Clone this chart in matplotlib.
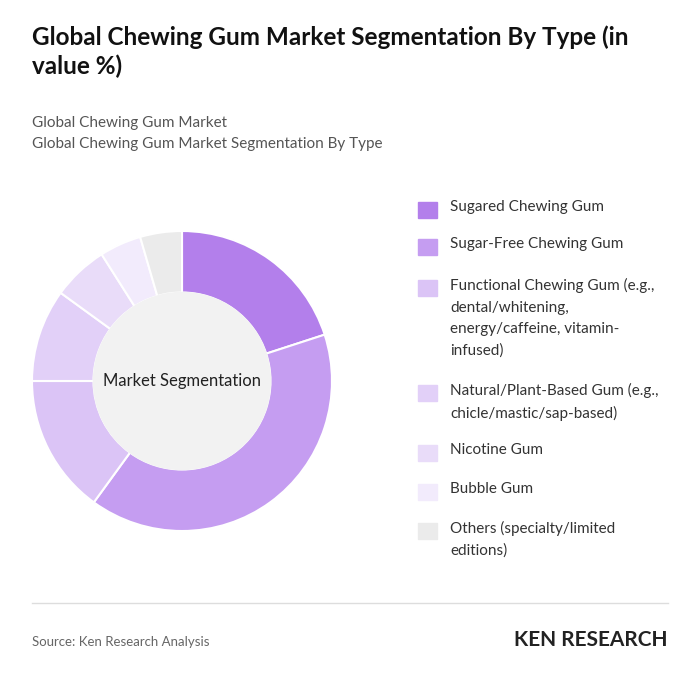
import matplotlib.pyplot as plt
from matplotlib.patches import Circle

plt.rcParams['font.family'] = ['Lato', 'DejaVu Sans']

categories = [
    "Sugared Chewing Gum",
    "Sugar-Free Chewing Gum",
    "Functional Chewing Gum (e.g.,\ndental/whitening,\nenergy/caffeine, vitamin-\ninfused)",
    "Natural/Plant-Based Gum (e.g.,\nchicle/mastic/sap-based)",
    "Nicotine Gum",
    "Bubble Gum",
    "Others (specialty/limited\neditions)",
]
values = [20, 40, 15, 10, 6, 4.5, 4.5]
colors = ["#b37feb", "#c59df1", "#dbc4f6", "#e2d0f8", "#e9dcf9", "#f2ebfc", "#ebebeb"]

fig = plt.figure(figsize=(7, 6.88), dpi=100)
W, H = 700, 688

fig.text(32 / W, 1 - 52 / H, "Global Chewing Gum Market Segmentation By Type (in\nvalue %)",
         fontsize=17.5, fontweight='bold', color="#111111", va='center', linespacing=1.3)
fig.text(32 / W, 1 - 123 / H, "Global Chewing Gum Market", fontsize=11, color="#555555", va='center')
fig.text(32 / W, 1 - 144 / H, "Global Chewing Gum Market Segmentation By Type", fontsize=11,
         color="#555555", va='center')

ax = fig.add_axes([32 / W, 1 - 531 / H, 300 / W, 300 / H])
ax.pie(values, colors=colors, startangle=90, counterclock=False, radius=1,
       wedgeprops=dict(width=0.41, edgecolor='white', linewidth=1.5))
ax.add_patch(Circle((0, 0), 0.59, color="#f2f2f2", zorder=3))
ax.text(0, 0, "Market Segmentation", ha='center', va='center', fontsize=12, color="#222222", zorder=4)
ax.set_xlim(-1, 1)
ax.set_ylim(-1, 1)
ax.set_aspect('equal')

ys = [210, 247, 288, 393, 453, 492, 531]
for lab, c, y in zip(categories, colors, ys):
    fig.patches.append(plt.Rectangle((418 / W, 1 - (y + 8) / H), 19 / W, 16 / H,
                                     transform=fig.transFigure, color=c, figure=fig))
    fig.text(450 / W, 1 - (y - 10) / H, lab, fontsize=11, color="#333333", va='top', linespacing=1.68)

fig.add_artist(plt.Line2D([32 / W, 668 / W], [1 - 603 / H] * 2, color="#dddddd", lw=1))
fig.text(32 / W, 1 - 642 / H, "Source: Ken Research Analysis", fontsize=9.5, color="#666666", va='center')
fig.text(668 / W, 1 - 640 / H, "KEN RESEARCH", fontsize=15, fontweight='bold', color="#222222",
         ha='right', va='center')

fig.savefig("out.png", facecolor='white')
